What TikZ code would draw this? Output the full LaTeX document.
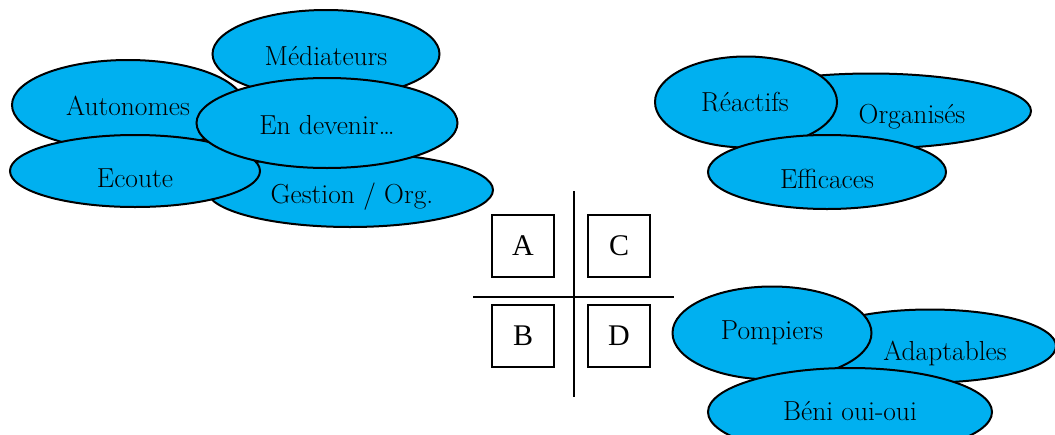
\documentclass[tikz,border=0pt]{standalone}
\usepackage{fontspec}
\newfontfamily\boxfont{Liberation Serif}
\usetikzlibrary{shapes.geometric}
\definecolor{blobblue}{HTML}{00B0F0}
\tikzset{
  blob/.style={ellipse, draw=black, line width=2pt, fill=blobblue, inner sep=0pt},
  lbl/.style={inner sep=0pt, font=\fontsize{27.5}{32}\selectfont},
  quad/.style={draw=black, line width=2pt, minimum width=62pt, minimum height=62pt, inner sep=0pt, font=\boxfont\fontsize{30}{34}\selectfont},
  axis/.style={line width=2pt}
}
\begin{document}
\begin{tikzpicture}[x=1pt,y=-1pt]
\useasboundingbox (0,0) rectangle (1055,434);
\clip (0,0) rectangle (1055,434);
% left cluster
\node[blob, minimum width=286pt, minimum height=74pt] (ges) at (350,190) {};
\node[lbl] (gesT) at (352,197) {Gestion / Org.};
\node[blob, minimum width=227pt, minimum height=88pt] (med) at (326,54) {};
\node[lbl] (medT) at (326,56) {Médiateurs};
\node[blob, minimum width=232pt, minimum height=90pt] (aut) at (128,105) {};
\node[lbl] (autT) at (128,106) {Autonomes};
\node[blob, minimum width=250pt, minimum height=72pt] (eco) at (135,171) {};
\node[lbl] (ecoT) at (135,178) {Ecoute};
\node[blob, minimum width=261pt, minimum height=90pt] (dev) at (327,123) {};
\node[lbl] (devT) at (327,125) {En devenir\dots};
% upper right cluster
\node[blob, minimum width=320pt, minimum height=75pt] (org) at (871,111) {};
\node[lbl] (orgT) at (912,117) {Organisés};
\node[blob, minimum width=182pt, minimum height=91pt] (rea) at (746,102) {};
\node[lbl] (reaT) at (745,102) {Réactifs};
\node[blob, minimum width=238pt, minimum height=74pt] (eff) at (827,172) {};
\node[lbl] (effT) at (827,179) {Efficaces};
% lower right cluster
\node[blob, minimum width=252pt, minimum height=73pt] (ada) at (930,346) {};
\node[lbl] (adaT) at (945,353) {Adaptables};
\node[blob, minimum width=199pt, minimum height=93pt] (pom) at (772,333) {};
\node[lbl] (pomT) at (772,333) {Pompiers};
\node[blob, minimum width=284pt, minimum height=88pt] (ben) at (850,412) {};
\node[lbl] (benT) at (850,411) {Béni oui-oui};
% quadrant grid
\coordinate (vt) at (574,191);
\coordinate (vb) at (574,397);
\coordinate (hl) at (473,297);
\coordinate (hr) at (674,297);
\draw[axis] (vt) -- (vb);
\draw[axis] (hl) -- (hr);
\node[quad] (A) at (523,246) {A};
\node[quad] (C) at (619,246) {C};
\node[quad] (B) at (523,336) {B};
\node[quad] (D) at (619,336) {D};
\end{tikzpicture}
\end{document}
